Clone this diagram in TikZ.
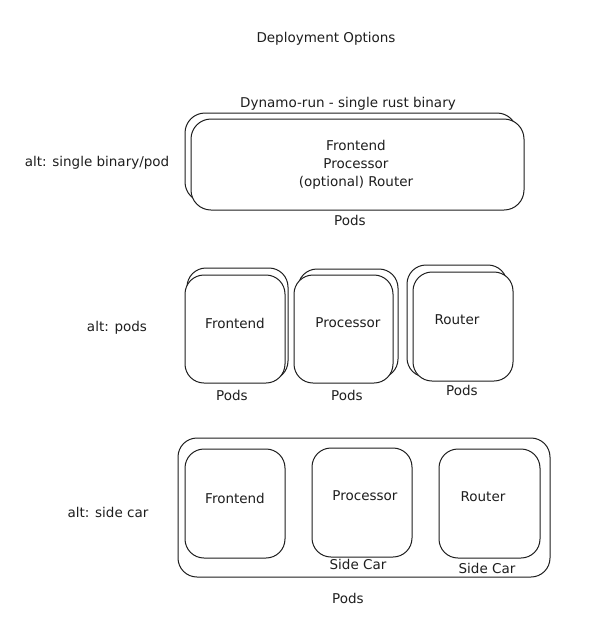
\documentclass[tikz,border=0pt]{standalone}
\usepackage{fontspec}
\setmainfont{DejaVu Sans}
\definecolor{ink}{HTML}{1E1E1E}
\begin{document}
\begin{tikzpicture}[x=1pt,y=-1pt,
  box/.style={draw=ink, line width=1pt, rounded corners=19pt, inner sep=0pt, fill=white},
  txt/.style={font=\fontsize{13.5}{18}\selectfont, text=ink, inner sep=0pt, align=center}]
\useasboundingbox[fill=white] (0,0) rectangle (591,625);
% title
\node[txt] (title) at (326,39) {Deployment Options};
% top row
\node[box, minimum width=332pt, minimum height=89pt, rounded corners=20pt] (topback) at (351,157.5) {};
\node[box, minimum width=333pt, minimum height=91pt, rounded corners=20pt] (topfront) at (357.5,164.5) {};
\node[txt] (toptext) at (356,165) {Frontend\\Processor\\(optional) Router};
\node[txt] (dyn) at (348,104) {Dynamo-run - single rust binary};
\node[txt] (pods1) at (350,220) {Pods};
\node[txt] (alt1) at (97,163) {alt: single binary/pod};
% middle row
\node[box, minimum width=101pt, minimum height=112pt] (feback) at (237.5,324) {};
\node[box, minimum width=100pt, minimum height=108pt] (fefront) at (235,329) {};
\node[txt] (fetext) at (235,323) {Frontend};
\node[txt] (fepods) at (232,395) {Pods};
\node[box, minimum width=100pt, minimum height=109pt] (prback) at (348,323.5) {};
\node[box, minimum width=99pt, minimum height=108pt] (prfront) at (343.5,329) {};
\node[txt] (prtext) at (348,323) {Processor};
\node[txt] (prpods) at (347,395) {Pods};
\node[box, minimum width=100pt, minimum height=112pt] (roback) at (457,321) {};
\node[box, minimum width=100pt, minimum height=109pt] (rofront) at (463,326.5) {};
\node[txt] (rotext) at (457,320) {Router};
\node[txt] (ropods) at (462,390) {Pods};
\node[txt] (alt2) at (117,328) {alt: pods};
% bottom row
\node[box, minimum width=372pt, minimum height=139pt] (outer) at (364,507.5) {};
\node[box, minimum width=100pt, minimum height=109pt] (sfe) at (235,503.5) {};
\node[txt] (sfetext) at (235,498) {Frontend};
\node[box, minimum width=100pt, minimum height=109pt] (spr) at (362,502.5) {};
\node[txt] (sprtext) at (365,496) {Processor};
\node[txt] (sprcar) at (358,564) {Side Car};
\node[box, minimum width=101pt, minimum height=109pt] (sro) at (489.5,503.5) {};
\node[txt] (srotext) at (483,497) {Router};
\node[txt] (srocar) at (487,568) {Side Car};
\node[txt] (pods3) at (348,598) {Pods};
\node[txt] (alt3) at (108,512) {alt: side car};
\end{tikzpicture}
\end{document}
